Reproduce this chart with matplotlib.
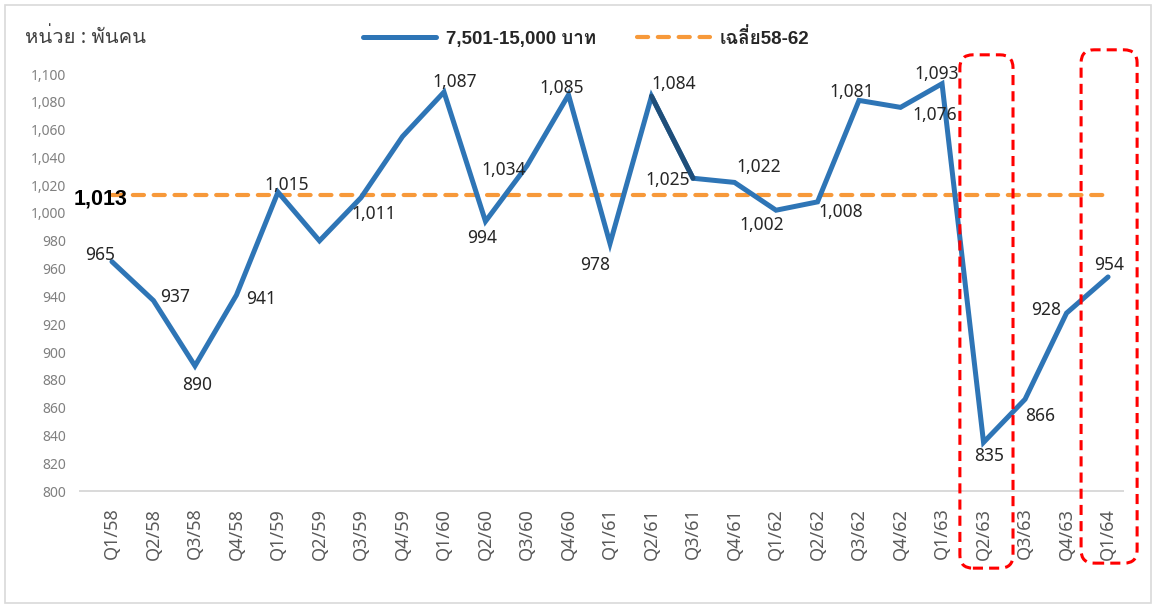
"""
Income band 7,501-15,000 baht: quarterly count (thousand persons) vs 58-62 average.
"""

import matplotlib
matplotlib.use("Agg")
import matplotlib.pyplot as plt
from matplotlib import font_manager
from matplotlib.ft2font import FT2Font
from matplotlib.patches import FancyBboxPatch, Rectangle
from matplotlib.transforms import IdentityTransform
from matplotlib.ticker import FuncFormatter

BLUE    = "#2E75B6"
NAVY    = "#1F4E79"
ORANGE  = "#F7993A"
RED     = "#FF0000"
INK     = "#262626"
INK_3   = "#595959"
INK_4   = "#808080"
RULE    = "#D9D9D9"

quarters = ["Q1/58", "Q2/58", "Q3/58", "Q4/58",
            "Q1/59", "Q2/59", "Q3/59", "Q4/59",
            "Q1/60", "Q2/60", "Q3/60", "Q4/60",
            "Q1/61", "Q2/61", "Q3/61", "Q4/61",
            "Q1/62", "Q2/62", "Q3/62", "Q4/62",
            "Q1/63", "Q2/63", "Q3/63", "Q4/63",
            "Q1/64"]
workers = [965, 937, 890, 941,
           1015, 980, 1011, 1055,
           1087, 994, 1034, 1085,
           978, 1084, 1025, 1022,
           1002, 1008, 1081, 1076,
           1093, 835, 866, 928,
           954]
labelled = [True, True, True, True,
            True, False, True, False,
            True, True, True, True,
            True, True, True, True,
            True, True, True, True,
            True, True, True, True,
            True]
avg_5862 = 1013
series_label = "7,501-15,000 บาท"
avg_label = "เฉลี่ย58-62"
unit_label = "หน่วย : พันคน"
highlight = ["Q2/63", "Q1/64"]
y_ticks = list(range(800, 1101, 20))

# label offsets in pixels (dx, dy) from each point
label_offsets = [(-12, 7), (22, 4), (2, -19), (25, -4),
                 (9, 7), (0, 0), (13, -16), (0, 0),
                 (11, 10), (-3, -17), (-23, -4), (-7, 7),
                 (-15, -21), (22, 12), (-25, -2), (24, 15),
                 (-14, -15), (23, -10), (-7, 8), (34, -8),
                 (-5, 10), (6, -14), (15, -17), (-20, 3),
                 (1, 12)]


def find_thai_font():
    for f in font_manager.fontManager.ttflist:
        try:
            if 0x0E2B in FT2Font(f.fname).get_charmap():
                return f.name
        except Exception:
            pass
    return None


thai = find_thai_font()
THAI = [thai] if thai else []
FAMILY = ["Noto Sans", "DejaVu Sans"] + THAI
BOLD_FAMILY = ["Liberation Sans", "DejaVu Sans"] + THAI
plt.rcParams["font.family"] = FAMILY

W, H = 1154, 606
fig = plt.figure(figsize=(W / 100, H / 100), dpi=100)
fig.patch.set_facecolor("white")

# axes box in pixels: x 80..1123, y 74..491 (from top)
ax = fig.add_axes([80 / W, (H - 491) / H, (1123 - 80) / W, (491 - 74) / H])
ax.set_facecolor("none")

x = list(range(len(quarters)))
line, = ax.plot(x, workers, color=BLUE, linewidth=3.6, solid_capstyle="round",
                solid_joinstyle="miter", zorder=3, label=series_label)
# one segment drawn darker in the source
i0 = quarters.index("Q2/61")
ax.plot(x[i0:i0 + 2], workers[i0:i0 + 2], color=NAVY, linewidth=3.6,
        solid_capstyle="round", zorder=3.5)

avg_line, = ax.plot(x, [avg_5862] * len(x), color=ORANGE, linewidth=3,
                    dashes=(2.67, 2.33), dash_capstyle="round", zorder=2,
                    label=avg_label)

ax.set_xlim(-0.77, 24.36)
ax.set_ylim(800, 1100)

for s in ["top", "right", "left"]:
    ax.spines[s].set_visible(False)
ax.spines["bottom"].set_color(RULE)
ax.spines["bottom"].set_linewidth(1.4)

ax.set_yticks(y_ticks)
ax.yaxis.set_major_formatter(FuncFormatter(lambda v, p: f"{int(v):,}"))
ax.tick_params(axis="y", length=0, pad=10, labelsize=10, labelcolor=INK_4)
ax.set_xticks(x)
ax.set_xticklabels(quarters, rotation=90)
ax.tick_params(axis="x", length=0, pad=12, labelsize=13, labelcolor=INK_3)

for i, v in enumerate(workers):
    if not labelled[i]:
        continue
    dx, dy = label_offsets[i]
    ax.annotate(f"{v:,}", (x[i], v), xytext=(dx, dy), textcoords="offset pixels",
                ha="center", va="center", fontsize=12.5, color=INK, zorder=5)

ax.annotate(f"{avg_5862:,}", (x[0], avg_5862), xytext=(-11, -4),
            textcoords="offset pixels", ha="center", va="center",
            fontsize=15.5, fontweight="bold", family=BOLD_FAMILY, color="black",
            annotation_clip=False, zorder=5)

leg = ax.legend(handles=[line, avg_line], loc="center",
                bbox_to_anchor=(586 / W, 1 - 38 / H),
                bbox_transform=fig.transFigure, ncol=2, frameon=False,
                handlelength=3.9, columnspacing=2.2, handletextpad=0.5,
                prop={"size": 13.5, "weight": "bold", "family": BOLD_FAMILY})
for t in leg.get_texts():
    t.set_color(INK)

fig.text(25 / W, 1 - 38 / H, unit_label, ha="left", va="center",
         fontsize=14.5, color="#404040")

# red rounded highlight boxes (x extents around the category, y in axes fraction)
box_specs = [(-0.57, 0.71, 1.046, -0.185), (-0.65, 0.70, 1.058, -0.173)]
for q, (l, r, top, bot) in zip(highlight, box_specs):
    k = quarters.index(q)
    x0 = ax.transData.transform((k + l, 0))[0]
    x1 = ax.transData.transform((k + r, 0))[0]
    y0 = ax.transAxes.transform((0, bot))[1]
    y1 = ax.transAxes.transform((0, top))[1]
    box = FancyBboxPatch((x0, y0), x1 - x0, y1 - y0,
                         boxstyle="round,pad=0,rounding_size=13",
                         transform=IdentityTransform(), fill=False,
                         edgecolor=RED, linewidth=2.2, linestyle=(0, (3.3, 2.0)),
                         zorder=6)
    fig.add_artist(box)

# outer chart border
fig.add_artist(Rectangle((5 / W, 3 / H), (1151 - 5) / W, (H - 8) / H,
                         transform=fig.transFigure, fill=False,
                         edgecolor=RULE, linewidth=1.2))

fig.savefig("out.png", dpi=100, facecolor="white")
plt.close(fig)
